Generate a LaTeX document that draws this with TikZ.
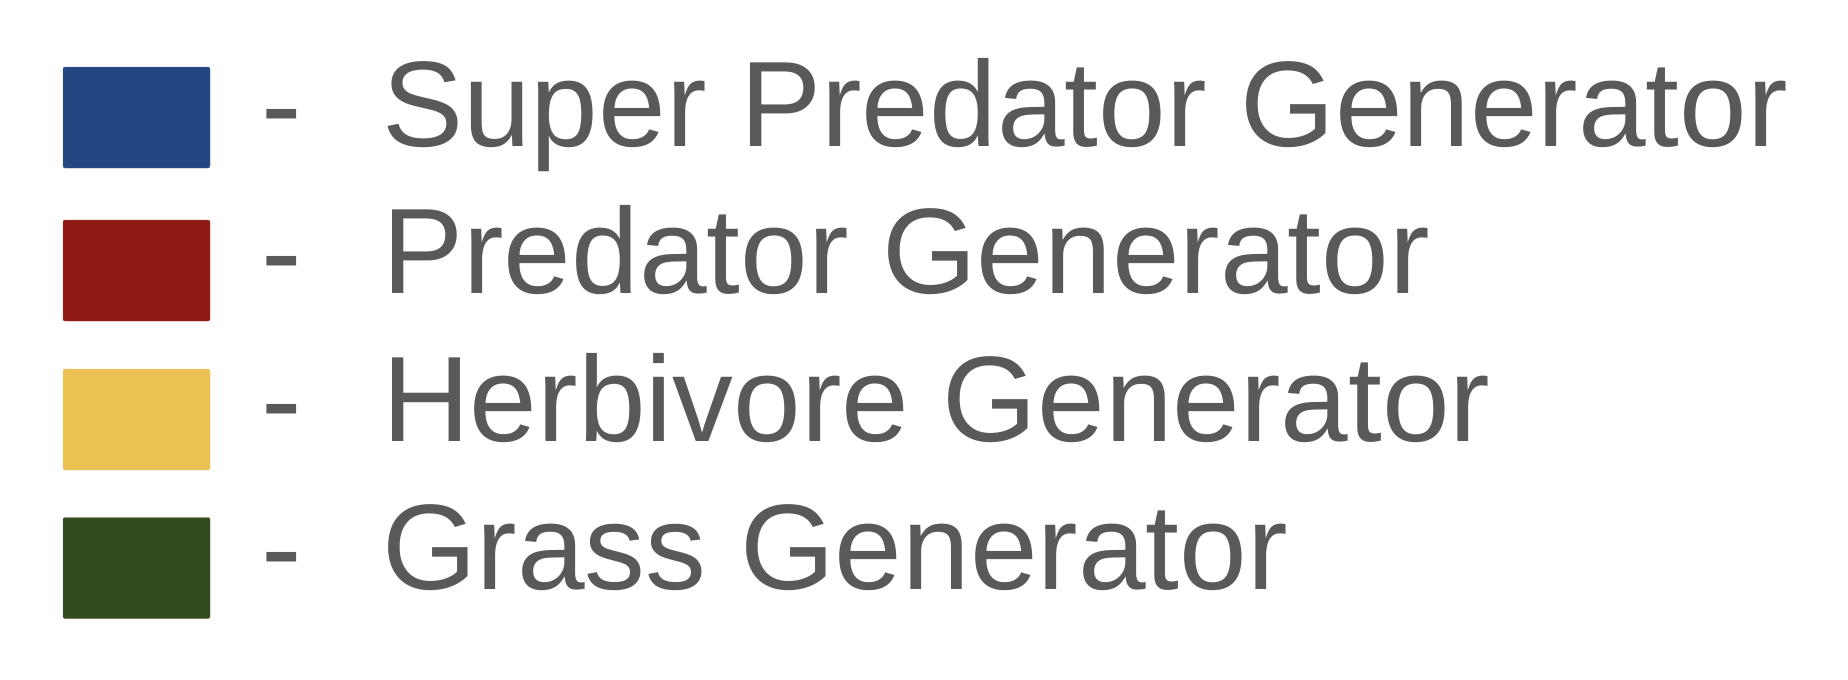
\documentclass[tikz,border=0pt]{standalone}
\usepackage{fontspec}
\setmainfont{Liberation Sans}
\usetikzlibrary{positioning}

\definecolor{superblue}{RGB}{36,71,129}
\definecolor{predred}{RGB}{142,26,19}
\definecolor{herbyellow}{RGB}{235,193,82}
\definecolor{grassgreen}{RGB}{50,76,30}
\definecolor{labelgray}{RGB}{89,89,89}

\begin{document}
\begin{tikzpicture}[x=1pt,y=-1pt,
  swatch/.style={rounded corners=2pt,inner sep=0pt,minimum width=147pt,minimum height=101pt},
  legtext/.style={anchor=base west,inner sep=0pt,text=labelgray,font=\fontsize{121.6}{121.6}\selectfont}]
  \useasboundingbox (0,0) rectangle (1848,680);
  % swatches
  \node[swatch,fill=superblue,draw=superblue!80!white] (swsuper) at (136.5,117.5) {};
  \node[swatch,fill=predred,draw=predred!80!white] (swpred) at (136.5,270.5) {};
  \node[swatch,fill=herbyellow,draw=herbyellow!80!white] (swherb) at (136.5,419.5) {};
  \node[swatch,fill=grassgreen,draw=grassgreen!80!white] (swgrass) at (136.5,568) {};
  % dashes
  \node[legtext] (dsuper) at (261.7,146) {-};
  \node[legtext] (dpred) at (261.7,293.3) {-};
  \node[legtext] (dherb) at (261.7,441.7) {-};
  \node[legtext] (dgrass) at (261.7,589) {-};
  % labels
  \node[legtext] (lsuper) at (382,146) {Super Predator Generator};
  \node[legtext] (lpred) at (382,293.3) {Predator Generator};
  \node[legtext] (lherb) at (382,441.7) {Herbivore Generator};
  \node[legtext] (lgrass) at (382,589) {Grass Generator};
\end{tikzpicture}
\end{document}
